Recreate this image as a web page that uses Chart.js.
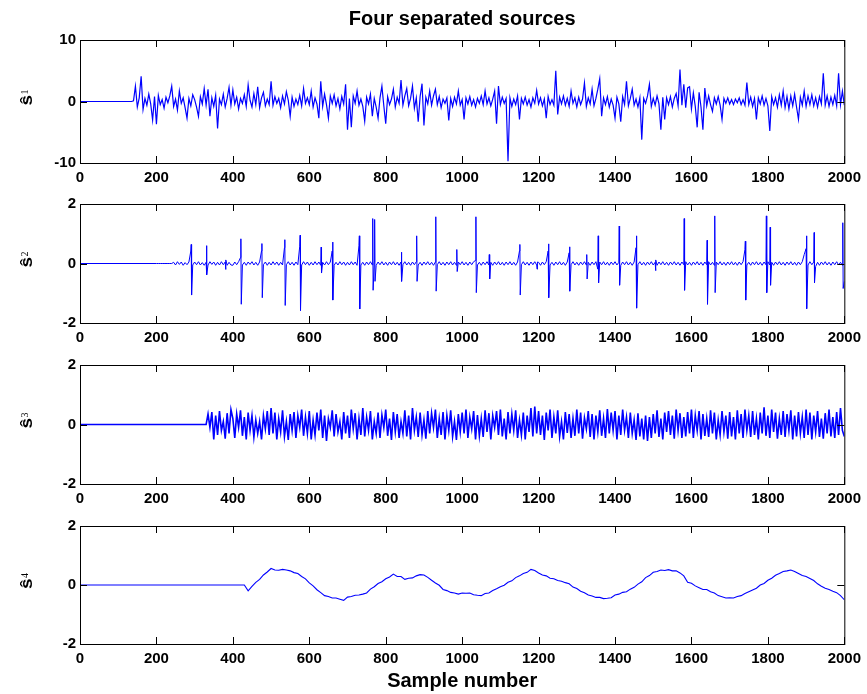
<!DOCTYPE html>
<html>
<head>
<meta charset="utf-8">
<title>Four separated sources</title>
<script src="https://cdn.jsdelivr.net/npm/chart.js@4.4.1/dist/chart.umd.min.js"></script>
<style>
  body { margin: 0; background: #fff; width: 867px; height: 694px; position: relative; overflow: hidden; }
  canvas { position: absolute; left: 0; }
</style>
</head>
<body>
<canvas id="s1" width="867" height="193" style="top:0px"></canvas>
<canvas id="s2" width="867" height="162" style="top:191px"></canvas>
<canvas id="s3" width="867" height="162" style="top:352px"></canvas>
<canvas id="s4" width="867" height="181" style="top:513px"></canvas>
<script>
// tick labels
var xTickValues = [0, 200, 400, 600, 800, 1000, 1200, 1400, 1600, 1800, 2000];
var s1TickValues = [-10, 0, 10];
var smallTickValues = [-2, 0, 2];

// source 1: samples 100..2000, every 5th sample (one row = 100 samples)
var s1Start = 100, s1Step = 5;
var s1Values = [
  0, 0, 0, 0, 0, 0, 0, 0, 0.1, 2.5, -0.9, 0.6, 4.1, -1.3, 0.5, -0.6, 1.2, -0.4, -3.0, 0.8,
  -3.7, 1.0, -0.5, 0.3, -1.1, 0.7, -0.2, 0.9, 2.5, -0.8, 0.4, -1.4, 1.7, -0.3, 0.6, -1.0, -2.7, 0.5, -0.7, 1.1,
  0.3, -0.9, -2.4, 0.8, -0.4, 2.1, -0.6, 2.0, -2.4, 0.6, -0.8, 1.0, -4.4, 0.4, -0.5, 1.2, -0.9, 0.5, 2.3, -0.6,
  1.9, -0.4, 0.7, -1.2, 0.5, -0.3, 1.1, -0.8, 2.7, 0.2, -0.9, 1.3, -0.5, 2.4, -1.0, 0.6, 1.5, -0.7, 0.4, -0.5,
  3.3, -0.6, 0.8, -0.3, 0.5, -1.0, 0.9, -0.4, 1.6, 0.2, -2.4, 0.7, -0.8, 0.4, -0.5, 1.0, -0.7, 2.1, -0.3, 0.6,
  -0.5, 1.7, -0.9, 0.6, -0.4, -2.7, 3.3, -0.8, 1.2, -0.5, -2.7, 0.9, -0.3, 1.1, -0.7, 0.5, -1.2, 0.8, -0.4, 2.8,
  -4.6, 0.5, -4.2, 0.9, -0.3, 1.7, -0.6, 0.4, -0.8, -3.2, 0.7, -0.4, 1.2, -2.4, 0.5, -0.9, -2.7, 0.6, 2.5, -0.7,
  -3.6, 0.8, -0.5, 0.4, 2.0, -0.9, 0.7, -0.3, 3.5, -0.6, 0.9, 2.1, -0.7, 0.5, 2.5, -1.1, 0.6, -3.3, 0.8, 2.9,
  -3.9, 0.7, -0.4, 1.7, -0.6, 0.9, 2.0, -0.5, 0.8, -1.0, 0.4, -0.3, 0.6, -3.1, 0.5, -0.8, 0.7, -0.4, 1.7, -0.6,
  0.3, -2.9, 0.6, -0.4, 0.8, -0.6, 0.3, -0.9, 0.5, -0.3, 0.9, -0.5, 1.7, -0.4, 0.6, -0.7, 0.4, 1.7, -3.6, 2.5,
  -0.5, 0.7, -0.3, 0.5, -9.7, 0.6, -0.8, 0.4, -0.5, 0.9, -2.9, 0.5, -0.4, 0.7, -0.6, 0.3, -0.9, 0.6, -0.3, 1.8,
  -0.4, 0.6, -0.7, 0.4, -2.7, 0.8, -0.5, 0.3, -0.6, 5.0, -2.1, 0.7, -0.4, 0.9, -0.6, 0.5, -0.8, 1.7, -0.3, 0.6,
  -0.9, 0.7, -0.5, 0.4, 3.0, -0.8, 0.6, -0.4, 2.0, -0.7, 0.5, 2.0, 3.7, -2.4, 0.6, -0.5, 0.8, -0.9, 0.4, -0.6,
  -2.7, 0.7, -0.4, -3.3, 0.8, -0.5, 3.3, -0.7, 0.5, 2.0, -0.6, 0.4, -0.9, 0.6, -6.2, 0.5, -0.3, 0.9, 2.8, -0.8,
  0.5, -0.6, 0.9, -0.4, -4.6, 0.7, -2.9, 0.6, -0.5, 0.8, -0.9, 0.5, 1.3, -0.7, 5.2, -0.6, 2.8, -1.0, 2.2, 2.4,
  -1.2, 1.4, -0.8, -4.2, 1.5, -0.9, -4.6, 2.2, -0.7, 0.9, -0.5, -1.6, 0.6, -0.4, 0.8, -0.6, -2.9, 0.5, -0.3, 0.6,
  -0.4, 0.3, -0.5, 0.4, -0.2, 0.6, -0.5, 0.3, -0.6, 3.1, -0.5, 0.7, -0.8, 0.5, -2.9, 0.6, -0.4, 0.9, -0.6, 0.5,
  -0.7, -4.8, 0.8, -0.5, 0.6, -0.9, 1.1, -0.6, 1.7, -1.0, 0.8, -1.2, 0.9, -0.7, 1.2, -0.9, -2.9, 0.7, -0.6, 1.7,
  -0.8, 0.9, -0.5, 1.1, -0.7, 0.6, -0.9, 0.8, -0.4, 4.6, -0.6, 0.9, -0.8, 0.7, -0.5, 1.0, -0.7, 4.6, -0.5, 1.7,
  -0.6
];

// source 2: low background, samples 200..2000, every 5th sample
var s2Start = 200, s2Step = 5;
var s2Background = [
  0, 0, 0, 0, 0, 0, 0, 0, 0, 0.04, -0.05, 0.06, -0.03, 0.05, -0.06, 0.03, -0.04, 0.05, 0.42, -0.05,
  0.05, -0.04, 0.06, -0.05, 0.03, -0.06, 0.04, -0.05, 0.06, -0.03, 0.05, -0.06, 0.04, -0.05, 0.06, -0.04, 0.05, -0.06, 0.04, -0.05,
  -0.06, 0.05, -0.04, 0.06, 0.2, -0.05, 0.04, -0.06, 0.05, -0.03, 0.06, -0.05, 0.04, -0.06, 0.05, 0.42, -0.04, 0.05, -0.06, 0.04,
  -0.05, 0.06, -0.04, 0.05, -0.06, 0.04, -0.05, 0.53, -0.04, 0.06, -0.05, 0.04, -0.06, 0.05, -0.04, 0.58, -0.05, 0.06, -0.04, 0.05,
  -0.06, 0.04, -0.05, 0.06, -0.04, 0.05, -0.06, 0.04, -0.05, 0.06, -0.04, 0.05, 0.42, -0.06, 0.04, -0.05, 0.06, -0.04, 0.05, -0.06,
  0.04, -0.05, 0.06, -0.04, 0.05, -0.06, 0.6, -0.05, 0.04, -0.06, 0.05, -0.04, 0.06, -0.05, 0.04, -0.06, 0.05, -0.04, 0.06, -0.05,
  0.04, -0.06, 0.05, -0.04, 0.06, -0.05, 0.04, -0.06, 0.05, -0.04, 0.06, -0.05, 0.04, -0.06, 0.05, -0.04, 0.06, -0.05, 0.04, -0.06,
  0.05, -0.04, 0.06, -0.05, 0.04, -0.06, 0.05, -0.04, 0.06, -0.05, 0.04, -0.06, 0.05, -0.04, 0.06, -0.05, 0.04, -0.06, 0.05, -0.04,
  0.06, -0.05, 0.04, -0.06, 0.05, -0.04, 0.06, 0.1, -0.05, 0.04, -0.06, 0.05, -0.04, 0.06, -0.05, 0.04, -0.06, 0.05, -0.04, 0.06,
  -0.05, 0.04, -0.06, 0.05, -0.04, 0.06, -0.05, 0.04, -0.06, 0.05, 0.42, -0.04, 0.06, -0.05, 0.04, -0.06, 0.05, -0.04, 0.06, -0.05,
  0.04, -0.06, 0.05, -0.04, 0.06, 0.42, -0.05, 0.04, -0.06, 0.05, -0.04, 0.06, -0.05, 0.04, -0.06, 0.05, 0.36, -0.04, 0.06, -0.05,
  0.04, -0.06, 0.05, -0.04, 0.06, -0.05, 0.04, -0.06, 0.05, -0.04, 0.06, -0.19, 0.05, -0.04, 0.06, -0.05, 0.04, -0.06, 0.05, -0.04,
  0.06, -0.05, 0.04, -0.06, 0.05, -0.04, 0.06, -0.05, 0.04, -0.06, 0.05, 0.53, -0.04, 0.06, -0.05, 0.04, -0.06, 0.05, -0.04, 0.06,
  -0.05, 0.04, -0.06, 0.05, -0.04, 0.06, -0.05, 0.04, -0.06, 0.05, -0.04, 0.06, -0.05, 0.04, -0.06, 0.05, -0.04, 0.06, -0.05, 0.04,
  -0.06, 0.05, -0.04, 0.06, -0.05, 0.04, -0.06, 0.05, -0.04, 0.06, -0.05, 0.04, -0.06, 0.05, -0.04, 0.06, -0.05, 0.04, -0.06, 0.05,
  -0.04, 0.06, -0.05, 0.04, -0.06, 0.05, -0.04, 0.06, 0.47, -0.05, 0.04, -0.06, 0.05, -0.04, 0.06, -0.05, 0.04, -0.06, 0.05, -0.04,
  0.06, -0.05, 0.04, -0.06, 0.05, -0.04, 0.06, -0.05, 0.04, -0.06, 0.05, -0.04, 0.06, -0.05, 0.04, -0.06, 0.05, -0.04, 0.06, 0.3,
  0.5, -0.05, 0.06, -0.04, 0.05, -0.1, 0.04, -0.06, 0.05, -0.04, 0.06, -0.05, 0.04, -0.06, 0.05, -0.04, 0.06, -0.05, 0.04, -0.06,
  -0.6
];
// source 2: bipolar spikes, sample where each starts and its two successive values
var s2SpikeAt = [291, 331, 381, 421, 476, 536, 576, 631, 661, 731, 766, 771, 841, 881, 931, 986,
  1036, 1071, 1151, 1196, 1226, 1281, 1326, 1356, 1411, 1456, 1506, 1581, 1641, 1661, 1741,
  1796, 1806, 1901, 1921, 1996];
var s2SpikeFirst = [0.64, 0.6, -0.2, 0.83, 0.67, 0.8, 0.95, 0.55, 0.72, 0.93, 1.51, 1.48, 0.38, 0.93, 1.57, 0.47,
  1.57, 0.3, 0.64, -0.19, 0.66, 0.56, 0.3, 0.93, 1.26, 0.93, -0.24, 1.51, 0.78, 1.6, 0.75,
  1.6, 1.22, 0.93, 1.04, 1.37];
var s2SpikeSecond = [-1.06, -0.38, 0.12, -1.37, -1.15, -1.41, -1.58, -0.32, -1.23, -1.53, -0.9, -0.6, -0.6, -0.6, -0.93, -0.27,
  -0.98, -0.52, -1.06, 0.05, -1.15, -0.93, -0.52, -0.65, -0.73, -1.5, 0.12, -0.9, -1.37, -0.98, -1.23,
  -0.98, -0.73, -1.52, -0.65, -0.84];

// source 3: samples 300..2000, every 5th sample
var s3Start = 300, s3Step = 5;
var s3Values = [
  0, 0, 0, 0, 0, 0, 0, 0.35, -0.1, 0.42, -0.5, 0.3, -0.35, 0.45, -0.2, 0.1, -0.48, 0.38, -0.3, 0.5,
  0.2, -0.45, 0.35, -0.1, 0.48, -0.38, 0.25, -0.5, 0.4, -0.2, 0.3, -0.42, 0.15, -0.3, 0.1, -0.5, 0.3, -0.15, 0.45, -0.35,
  0.55, -0.3, 0.4, -0.5, 0.2, -0.25, 0.48, -0.4, 0.1, -0.52, 0.35, -0.2, 0.42, -0.45, 0.3, -0.1, 0.5, -0.38, 0.25, -0.3,
  0.45, -0.5, 0.15, -0.35, 0.4, -0.2, 0.5, -0.45, 0.3, -0.55, 0.2, -0.1, 0.48, -0.4, 0.35, -0.25, 0.1, -0.5, 0.42, -0.3,
  0.3, -0.45, 0.5, -0.15, 0.38, -0.5, 0.2, -0.35, 0.55, -0.4, 0.25, -0.2, 0.45, -0.5, 0.1, -0.3, 0.4, -0.45, 0.32, -0.1,
  0.5, -0.38, 0.2, -0.52, 0.42, -0.25, 0.35, -0.45, 0.1, -0.3, 0.48, -0.4, 0.3, -0.5, 0.55, -0.2, 0.25, -0.42, 0.4, -0.35,
  0.15, -0.48, 0.45, -0.3, 0.38, -0.1, 0.5, -0.45, 0.2, -0.35, 0.42, -0.5, 0.3, -0.2, 0.48, -0.4, 0.1, -0.52, 0.35, -0.25,
  0.4, -0.3, 0.5, -0.45, 0.25, -0.15, 0.45, -0.5, 0.32, -0.38, 0.2, -0.42, 0.48, -0.25, 0.38, -0.5, 0.3, -0.1, 0.45, -0.35,
  0.5, -0.4, 0.2, -0.5, 0.42, -0.3, 0.35, -0.2, 0.48, -0.45, 0.15, -0.35, 0.4, -0.5, 0.3, -0.25, 0.55, -0.4, 0.6, -0.3,
  0.45, -0.35, 0.3, -0.52, 0.4, -0.2, 0.5, -0.45, 0.25, -0.3, 0.48, -0.4, 0.1, -0.5, 0.42, -0.28, 0.35, -0.45, 0.2, -0.38,
  0.5, -0.3, 0.4, -0.48, 0.22, -0.15, 0.45, -0.42, 0.35, -0.5, 0.3, -0.25, 0.48, -0.38, 0.2, -0.45, 0.52, -0.3, 0.4, -0.2,
  0.45, -0.5, 0.3, -0.35, 0.5, -0.2, 0.25, -0.45, 0.4, -0.3, 0.15, -0.52, 0.38, -0.4, 0.2, -0.5, 0.3, -0.55, 0.25, -0.45,
  0.35, -0.3, 0.48, -0.42, 0.2, -0.5, 0.4, -0.25, 0.45, -0.35, 0.3, -0.48, 0.5, -0.2, 0.38, -0.45, 0.25, -0.4, 0.42, -0.3,
  0.5, -0.45, 0.3, -0.2, 0.45, -0.5, 0.35, -0.38, 0.2, -0.42, 0.48, -0.3, 0.4, -0.5, 0.15, -0.35, 0.45, -0.25, 0.3, -0.48,
  0.42, -0.4, 0.25, -0.5, 0.48, -0.3, 0.35, -0.45, 0.5, -0.2, 0.3, -0.42, 0.45, -0.35, 0.2, -0.5, 0.4, -0.3, 0.58, -0.38,
  0.3, -0.45, 0.5, -0.25, 0.4, -0.48, 0.2, -0.35, 0.45, -0.42, 0.35, -0.2, 0.48, -0.5, 0.3, -0.4, 0.42, -0.3, 0.25, -0.45,
  0.5, -0.35, 0.4, -0.5, 0.3, -0.25, 0.45, -0.42, 0.2, -0.48, 0.38, -0.3, 0.5, -0.4, 0.25, -0.45, 0.42, -0.35, 0.55, -0.2,
  -0.4
];

// source 4: samples 400..2000, every 10th sample
var s4Start = 400, s4Step = 10;
var s4Values = [
  0, 0, 0, 0, -0.2, -0.05, 0.09, 0.19, 0.34, 0.44,
  0.56, 0.51, 0.5, 0.53, 0.51, 0.48, 0.42, 0.39, 0.29, 0.21,
  0.07, -0.03, -0.16, -0.26, -0.36, -0.39, -0.44, -0.44, -0.48, -0.52,
  -0.41, -0.39, -0.35, -0.34, -0.31, -0.27, -0.14, -0.06, 0.05, 0.11,
  0.21, 0.27, 0.37, 0.29, 0.29, 0.19, 0.23, 0.24, 0.31, 0.35,
  0.34, 0.26, 0.16, 0.07, -0.01, -0.15, -0.19, -0.25, -0.27, -0.31,
  -0.27, -0.28, -0.27, -0.33, -0.35, -0.36, -0.29, -0.27, -0.19, -0.13,
  -0.06, -0.01, 0.09, 0.14, 0.25, 0.31, 0.39, 0.43, 0.53, 0.49,
  0.41, 0.34, 0.31, 0.23, 0.21, 0.15, 0.13, 0.08, 0.04, -0.07,
  -0.12, -0.21, -0.26, -0.34, -0.37, -0.42, -0.42, -0.46, -0.45, -0.43,
  -0.34, -0.31, -0.25, -0.23, -0.14, -0.08, 0.03, 0.11, 0.25, 0.32,
  0.43, 0.46, 0.51, 0.49, 0.52, 0.48, 0.48, 0.41, 0.31, 0.09,
  0.06, -0.03, -0.09, -0.15, -0.15, -0.23, -0.27, -0.36, -0.4, -0.44,
  -0.43, -0.44, -0.39, -0.36, -0.29, -0.23, -0.17, -0.11, 0.0, 0.05,
  0.16, 0.23, 0.33, 0.39, 0.46, 0.48, 0.51, 0.46, 0.39, 0.32,
  0.29, 0.22, 0.15, 0.04, -0.04, -0.11, -0.15, -0.21, -0.26, -0.36,
  -0.5
];

var FONT = "'Liberation Sans', Arial, Helvetica, sans-serif";

function toPoints(values, start, step) {
  var pts = [{ x: 0, y: 0 }];
  values.forEach(function (v, i) { pts.push({ x: start + i * step, y: v }); });
  return pts;
}

// background samples plus the two samples of every spike, in sample order
function spikePoints(values, start, step, at, first, second) {
  var pts = toPoints(values, start, step);
  at.forEach(function (n, i) {
    pts.push({ x: n, y: first[i] });
    pts.push({ x: n + 1, y: second[i] });
  });
  pts.sort(function (a, b) { return a.x - b.x; });
  return pts;
}

// matlab style box, inward ticks on all sides and the s-hat label
var matlabAxes = {
  id: 'matlabAxes',
  afterDraw: function (chart, args, opts) {
    var ctx = chart.ctx, a = chart.chartArea;
    var xs = chart.scales.x, ys = chart.scales.y;
    ctx.save();
    ctx.strokeStyle = '#000';
    ctx.lineWidth = 1;
    ctx.beginPath();
    xs.ticks.forEach(function (t) {
      var px = Math.round(xs.getPixelForValue(t.value)) + 0.5;
      ctx.moveTo(px, a.bottom); ctx.lineTo(px, a.bottom - 7);
      ctx.moveTo(px, a.top); ctx.lineTo(px, a.top + 7);
    });
    ys.ticks.forEach(function (t) {
      var py = Math.round(ys.getPixelForValue(t.value)) + 0.5;
      ctx.moveTo(a.left, py); ctx.lineTo(a.left + 7, py);
      ctx.moveTo(a.right, py); ctx.lineTo(a.right - 7, py);
    });
    ctx.stroke();
    ctx.strokeRect(a.left + 0.5, a.top + 0.5, a.right - a.left, a.bottom - a.top);

    // rotated label
    var cy = (a.top + a.bottom) / 2;
    ctx.translate(32, cy);
    ctx.rotate(-Math.PI / 2);
    ctx.fillStyle = '#000';
    ctx.textAlign = 'left';
    ctx.textBaseline = 'alphabetic';
    ctx.save();
    ctx.scale(1, 0.82);
    ctx.font = 'bold 19px ' + FONT;
    ctx.fillText('\u015D', -4, 0);
    var w = ctx.measureText('\u015D').width;
    ctx.restore();
    ctx.font = '10px "Liberation Serif", serif';
    ctx.fillText(opts.sub, -4 + w + 0.5, -4);
    ctx.restore();
  }
};

function makeChart(id, points, lineW, yMin, yMax, yTicks, sub, topPad, xAxisH, extra) {
  var tickFont = { family: FONT, size: 15, weight: 'bold' };
  return new Chart(document.getElementById(id), {
    type: 'line',
    data: {
      datasets: [{
        data: points,
        borderColor: '#0000ff',
        borderWidth: lineW,
        pointRadius: 0,
        tension: 0,
        fill: false
      }]
    },
    options: {
      responsive: false,
      animation: false,
      events: [],
      parsing: false,
      layout: { padding: { left: 0, right: 21, top: topPad, bottom: 0 } },
      plugins: {
        legend: { display: false },
        tooltip: { enabled: false },
        title: extra.title || { display: false },
        matlabAxes: { sub: sub }
      },
      scales: {
        x: {
          type: 'linear',
          min: 0,
          max: 2000,
          afterBuildTicks: function (s) { s.ticks = xTickValues.map(function (v) { return { value: v }; }); },
          grid: { display: false, drawTicks: false },
          border: { display: false },
          ticks: {
            color: '#000', padding: 6, maxRotation: 0, autoSkip: false, font: tickFont,
            callback: function (v) { return String(v); }
          },
          title: extra.xTitle || { display: false },
          afterFit: function (s) { s.height = xAxisH; }
        },
        y: {
          min: yMin,
          max: yMax,
          afterBuildTicks: function (s) { s.ticks = yTicks.map(function (v) { return { value: v }; }); },
          grid: { display: false, drawTicks: false },
          border: { display: false },
          ticks: { color: '#000', padding: 4, font: tickFont, callback: function (v) { return String(v); } },
          afterFit: function (s) { s.width = 80; }
        }
      }
    },
    plugins: [matlabAxes]
  });
}

makeChart('s1', toPoints(s1Values, s1Start, s1Step), 1.2, -10, 10, s1TickValues, '1', 0, 30, {
  title: {
    display: true,
    text: 'Four separated sources',
    color: '#000',
    fullSize: false,
    font: { family: FONT, size: 20, weight: 'bold', lineHeight: 1.2 },
    padding: { top: 7, bottom: 9 }
  }
});
makeChart('s2', spikePoints(s2Background, s2Start, s2Step, s2SpikeAt, s2SpikeFirst, s2SpikeSecond),
  1, -2, 2, smallTickValues, '2', 10, 30, {});
makeChart('s3', toPoints(s3Values, s3Start, s3Step), 1.6, -2, 2, smallTickValues, '3', 10, 30, {});
makeChart('s4', toPoints(s4Values, s4Start, s4Step), 1.1, -2, 2, smallTickValues, '4', 10, 50, {
  xTitle: {
    display: true,
    text: 'Sample number',
    color: '#000',
    font: { family: FONT, size: 20, weight: 'bold', lineHeight: 1.2 },
    padding: { top: 0, bottom: 1 }
  }
});
</script>
</body>
</html>
